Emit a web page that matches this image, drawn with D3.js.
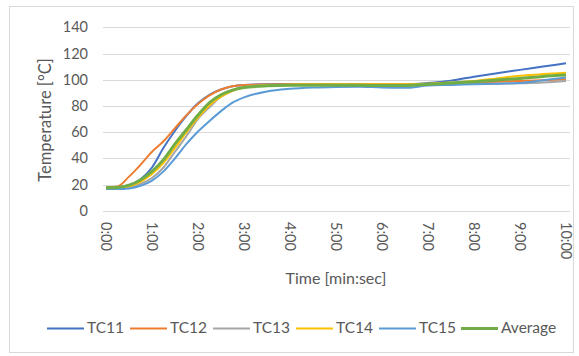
<!DOCTYPE html>
<html>
<head>
<meta charset="utf-8">
<script src="https://cdn.jsdelivr.net/npm/d3@7"></script>
<style>
  body { margin: 0; background: #fff; }
  text { font-family: Lato, "Open Sans", sans-serif; fill: #595959; }
</style>
</head>
<body>
<div id="svg-wrap"></div>
<script>
// DATA //

//time in minutes, same for all series
var times = [0, 0.25, 0.5, 0.75, 1, 1.25, 1.5, 1.75, 2, 2.25, 2.5, 2.75, 3, 3.5, 4, 4.5, 5, 5.5, 6, 6.5, 7, 7.5, 8, 8.5, 9, 9.5, 10];

var tc11 = [17.5, 17.6, 19.5, 24, 33, 48, 61, 72.5, 82, 88.5, 92.5, 95, 96, 96.5, 96.7, 96.7, 96.6, 96.6, 96.5, 96.5, 97.5, 99.3, 102.3, 105, 107.5, 110, 112.5];
var tc12 = [18, 18.5, 26, 35, 45, 53, 63, 73, 81.5, 88, 92.5, 95, 96, 96.3, 96.5, 96.5, 96.5, 96.5, 96.4, 96.4, 96.8, 97.2, 97.8, 98.5, 99, 99.6, 100.4];
var tc13 = [17, 17, 18, 20.5, 25, 33, 45, 57, 70, 79, 87, 91.5, 94.5, 95.8, 96, 96, 96, 96, 95.8, 95.8, 96.2, 96.5, 96.8, 97, 97.3, 97.8, 99];
var tc14 = [17.5, 17.5, 18.5, 22, 28, 36.5, 48, 60, 71, 80.5, 87, 91.5, 94, 95.8, 96.3, 96.5, 96.5, 96.5, 96.5, 96.5, 97, 97.8, 99, 101, 103, 104.3, 105.3];
var tc15 = [16.5, 16.5, 17, 19, 23, 30, 40, 51, 60.5, 68.5, 76, 82.5, 86.5, 91, 93, 94, 94.5, 94.7, 94, 93.8, 95.5, 96, 96.5, 97, 97.5, 99.5, 101.6];
var average = [17.5, 17.8, 19.5, 23.5, 30, 39, 51, 62, 73, 82.5, 88.5, 92, 94, 95.3, 95.7, 95.7, 95.7, 95.7, 95.5, 95.5, 96.5, 97.5, 98.5, 99.8, 101, 102.5, 103.5];

var seriesNames = ["TC11", "TC12", "TC13", "TC14", "TC15", "Average"];
var seriesValues = [tc11, tc12, tc13, tc14, tc15, average];
var colors = ["#4472C4", "#ED7D31", "#A5A5A5", "#FFC000", "#5B9BD5", "#70AD47"];

var yTicks = [0, 20, 40, 60, 80, 100, 120, 140];
var xTicks = [0, 1, 2, 3, 4, 5, 6, 7, 8, 9, 10];
var xTickLabels = ["0:00", "1:00", "2:00", "3:00", "4:00", "5:00", "6:00", "7:00", "8:00", "9:00", "10:00"];

// DRAW CHART //

var w = 579;
var h = 356;

var svg = d3.select("#svg-wrap")
            .append("svg")
            .attr("width", w)
            .attr("height", h);

//chart border
svg.append("rect")
   .attr("x", 9.5)
   .attr("y", 6.5)
   .attr("width", 564)
   .attr("height", 346)
   .attr("fill", "none")
   .attr("stroke", "#d9d9d9");

var x = d3.scaleLinear().domain([0, 10]).range([106, 566]);
var y = d3.scaleLinear().domain([0, 140]).range([210.7, 27.3]);

//horizontal gridlines
svg.append("g")
   .selectAll("line")
   .data(yTicks)
   .enter()
   .append("line")
   .attr("x1", 103)
   .attr("x2", 570)
   .attr("y1", function(d){ return Math.round(y(d)) + 0.5; })
   .attr("y2", function(d){ return Math.round(y(d)) + 0.5; })
   .attr("stroke", "#d9d9d9")
   .attr("stroke-width", 1);

//y axis labels
var yAxis = d3.axisLeft(y).tickValues(yTicks).tickSize(0).tickPadding(0);
svg.append("g")
   .attr("transform", "translate(88,0)")
   .call(yAxis)
   .call(function(g){ g.select(".domain").remove(); })
   .selectAll("text")
   .style("font-family", "Lato, 'Open Sans', sans-serif")
   .style("font-size", "14.5px")
   .attr("fill", "#595959");

//x axis labels, rotated
var xAxis = d3.axisBottom(x).tickValues(xTicks)
              .tickFormat(function(d, i){ return xTickLabels[i]; })
              .tickSize(0);
svg.append("g")
   .attr("transform", "translate(0,222)")
   .call(xAxis)
   .call(function(g){ g.select(".domain").remove(); })
   .selectAll("text")
   .attr("transform", "rotate(90)")
   .attr("x", 0)
   .attr("y", 0)
   .attr("dx", 0)
   .attr("dy", "0.35em")
   .style("text-anchor", "start")
   .style("font-family", "Lato, 'Open Sans', sans-serif")
   .style("font-size", "14.5px")
   .attr("fill", "#595959");

//axis titles
svg.append("text")
   .attr("x", 336)
   .attr("y", 284)
   .attr("text-anchor", "middle")
   .style("font-size", "16px")
   .text("Time [min:sec]");

svg.append("text")
   .attr("transform", "translate(51,120) rotate(-90)")
   .attr("text-anchor", "middle")
   .style("font-size", "16.5px")
   .text("Temperature [°C]");

//lines
var line = d3.line()
             .x(function(d, i){ return x(times[i]); })
             .y(function(d){ return y(d); })
             .curve(d3.curveMonotoneX);

svg.append("g")
   .selectAll("path")
   .data(seriesValues)
   .enter()
   .append("path")
   .attr("d", line)
   .attr("fill", "none")
   .attr("stroke", function(d, i){ return colors[i]; })
   .attr("stroke-width", function(d, i){ return i == 5 ? 3 : 2; })
   .attr("stroke-linejoin", "round");

//legend
var legendX = [47, 130, 213, 296, 379, 461];
var legend = svg.append("g")
                .selectAll("g")
                .data(seriesNames)
                .enter()
                .append("g")
                .attr("transform", function(d, i){ return "translate(" + legendX[i] + ",328)"; });

legend.append("line")
      .attr("x1", 0)
      .attr("x2", 37)
      .attr("y1", 0.5)
      .attr("y2", 0.5)
      .attr("stroke", function(d, i){ return colors[i]; })
      .attr("stroke-width", function(d, i){ return i == 5 ? 3 : 2; });

legend.append("text")
      .attr("x", 40)
      .attr("y", 0)
      .attr("dy", "0.35em")
      .style("font-size", "15.5px")
      .text(function(d){ return d; });
</script>
</body>
</html>
